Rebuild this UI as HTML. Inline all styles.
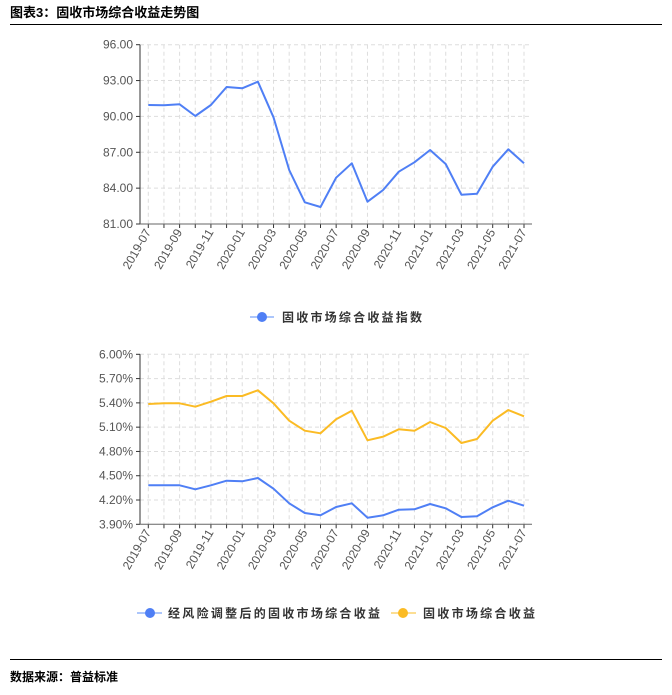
<!DOCTYPE html>
<html><head><meta charset="utf-8"><style>
body{margin:0;background:#fff;width:672px;height:690px;overflow:hidden;font-family:"Liberation Sans","Noto Sans CJK SC",sans-serif}
</style></head><body>
<svg id="s" width="672" height="690" xmlns="http://www.w3.org/2000/svg" font-family="Liberation Sans, Noto Sans CJK SC, sans-serif">
<text x="10" y="17" font-size="13" font-weight="bold" fill="#000">图表3：固收市场综合收益走势图</text>
<line x1="10" y1="24.5" x2="662" y2="24.5" stroke="#000" stroke-width="1"/>
<line x1="10" y1="659.5" x2="662" y2="659.5" stroke="#000" stroke-width="1"/>
<text x="10" y="681" font-size="12" font-weight="bold" fill="#000">数据来源：普益标准</text>
<g id="g"></g>
<line x1="250" y1="317" x2="274" y2="317" stroke="#5b8ff9" stroke-width="2" opacity="0.5"/>
<circle cx="262" cy="317" r="5" fill="#4f7ff5"/>
<text x="282" y="321.5" font-size="12" fill="#333" textLength="140" lengthAdjust="spacing" font-weight="bold">固收市场综合收益指数</text>
<line x1="137" y1="613" x2="162" y2="613" stroke="#5b8ff9" stroke-width="2" opacity="0.5"/>
<circle cx="150" cy="613" r="5" fill="#4f7ff5"/>
<text x="168" y="617.5" font-size="12" fill="#333" textLength="212" lengthAdjust="spacing" font-weight="bold">经风险调整后的固收市场综合收益</text>
<line x1="391" y1="613" x2="416" y2="613" stroke="#fbbf2a" stroke-width="2" opacity="0.5"/>
<circle cx="403" cy="613" r="5" fill="#fbbb24"/>
<text x="423" y="617.5" font-size="12" fill="#333" textLength="112" lengthAdjust="spacing" font-weight="bold">固收市场综合收益</text>
</svg>
<script>
var g=document.getElementById('g'),h='';
var x0=148.3,dx=(524-148.3)/24,L=140,R=532;
var labels=['2019-07','2019-09','2019-11','2020-01','2020-03','2020-05','2020-07','2020-09','2020-11','2021-01','2021-03','2021-05','2021-07'];
function chart(top,bot,ylabs,series){
  var n=ylabs.length-1;
  for(var i=0;i<=n;i++){var y=top+(bot-top)*i/n;
    if(i<n)h+='<line x1="'+L+'" y1="'+y+'" x2="'+R+'" y2="'+y+'" stroke="#ddd" stroke-dasharray="4,3"/>';
    h+='<line x1="'+(L-4)+'" y1="'+y+'" x2="'+L+'" y2="'+y+'" stroke="#333"/>';
    h+='<text x="'+(L-7)+'" y="'+(y+4)+'" font-size="12" fill="#555" text-anchor="end">'+ylabs[i]+'</text>';}
  for(var k=0;k<25;k++){var x=x0+dx*k;
    h+='<line x1="'+x+'" y1="'+top+'" x2="'+x+'" y2="'+bot+'" stroke="#ddd" stroke-dasharray="4,3"/>';
    h+='<line x1="'+x+'" y1="'+bot+'" x2="'+x+'" y2="'+(bot+4)+'" stroke="#333"/>';
    if(k%2==0)h+='<text transform="translate('+(x+3)+','+(bot+8)+') rotate(-60)" font-size="12" fill="#555" text-anchor="end">'+labels[k/2]+'</text>';}
  h+='<line x1="'+L+'" y1="'+top+'" x2="'+L+'" y2="'+bot+'" stroke="#333"/>';
  h+='<line x1="'+L+'" y1="'+bot+'" x2="'+R+'" y2="'+bot+'" stroke="#666"/>';
  series.forEach(function(s){var p=s.d.map(function(z,k){return (x0+dx*k).toFixed(1)+','+(s.oy+z/3).toFixed(1)}).join(' ');
    h+='<polyline points="'+p+'" fill="none" stroke="'+s.c+'" stroke-width="2" stroke-linejoin="round"/>';});
}
chart(44.7,224,['96.00','93.00','90.00','87.00','84.00','81.00'],[{c:'#4f7ff5',oy:30,d:[225,226,223,258,225,171,175,155,262,420,517,531,443,400,515,480,425,397,360,402,494,491,410,358,400]}]);
chart(354.3,524.3,['6.00%','5.70%','5.40%','5.10%','4.80%','4.50%','4.20%','3.90%'],[
 {c:'#fbbb24',oy:340,d:[192,190,190,200,185,168,168,151,190,242,272,280,238,212,301,290,268,272,246,264,309,297,242,210,229]},
 {c:'#4f7ff5',oy:340,d:[436,436,436,448,436,422,424,414,446,490,519,526,501,490,533,526,509,508,492,505,531,529,502,482,497]}]);
g.innerHTML=h;
</script>
</body></html>
